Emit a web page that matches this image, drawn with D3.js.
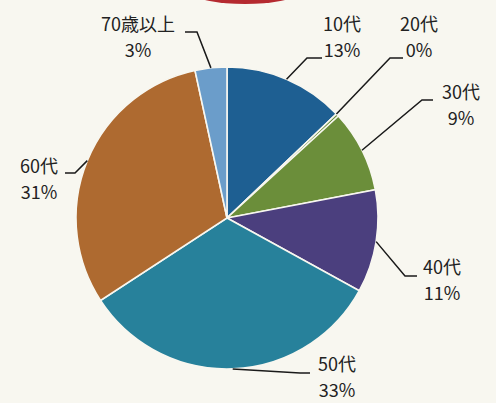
<!DOCTYPE html>
<html>
<head>
<meta charset="utf-8">
<script src="https://cdn.jsdelivr.net/npm/d3@7"></script>
<style>
  body { margin: 0; background: #f8f7f0; }
  svg { display: block; }
</style>
</head>
<body>
<div id="container"></div>
<script>
/* les données du graphe */
const categories = ["10代", "20代", "30代", "40代", "50代", "60代", "70歳以上"];
const values = [12.9, 0.3, 8.8, 11.0, 32.8, 30.8, 3.4];
const percentLabels = ["13%", "0%", "9%", "11%", "33%", "31%", "3%"];

const colors = ["#1e5f92", "#6b8e3a", "#6b8e3a", "#4b3f7e", "#27819b", "#ae6a30", "#6b9dca"];

// position of each label (text centre) and the elbow of its leader line
const labelLayout = [
    {x: 342, y: 25, elbow: [[322, 58], [307, 58]]},
    {x: 419, y: 25, elbow: [[403, 58], [390, 58]]},
    {x: 461, y: 93, elbow: [[433, 100], [422, 100]]},
    {x: 442, y: 268, elbow: [[417, 276], [405, 276]]},
    {x: 337, y: 365, elbow: [[310, 373], [300, 373]]},
    {x: 39, y: 167, elbow: [[65, 173], [75, 173]]},
    {x: 138, y: 25, elbow: [[185, 32], [197, 32]]}
];

const width = 496;
const height = 403;
const cx = 227, cy = 218, radius = 151;

const svg = d3.select("#container").append("svg")
    .attr("width", width)
    .attr("height", height);

svg.append("rect")
    .attr("width", width)
    .attr("height", height)
    .attr("fill", "#f8f7f0");

// le bout rouge du graphique au-dessus
svg.append("ellipse")
    .attr("cx", 245).attr("cy", -6)
    .attr("rx", 50).attr("ry", 10)
    .attr("fill", "#b52a30");

const pie = d3.pie().sort(null).value(d => d)(values);
const arc = d3.arc().innerRadius(0).outerRadius(radius);

const g = svg.append("g").attr("transform", `translate(${cx},${cy})`);

g.selectAll("path")
    .data(pie)
    .join("path")
    .attr("d", arc)
    .attr("fill", (d, i) => colors[i])
    .attr("stroke", "#f8f7f0")
    .attr("stroke-width", 1.6);

// anchor point on the rim for each leader line
function anchor(d, i) {
    let a = (d.startAngle + d.endAngle) / 2;
    if (i === 1) a = d.startAngle;
    return [cx + radius * Math.sin(a), cy - radius * Math.cos(a)];
}

const line = d3.line();

svg.append("g")
    .selectAll("path")
    .data(pie)
    .join("path")
    .attr("d", (d, i) => {
        const l = labelLayout[i];
        return line([l.elbow[0], l.elbow[1], anchor(d, i)]);
    })
    .attr("fill", "none")
    .attr("stroke", "#1a1a1a")
    .attr("stroke-width", 1.5);

const labels = svg.append("g")
    .attr("font-family", "'Noto Sans CJK JP', 'Noto Sans', sans-serif")
    .attr("font-size", 18)
    .attr("fill", "#222")
    .attr("text-anchor", "middle");

labels.selectAll("text.cat")
    .data(categories)
    .join("text")
    .attr("class", "cat")
    .attr("x", (d, i) => labelLayout[i].x)
    .attr("y", (d, i) => labelLayout[i].y)
    .attr("dy", "0.35em")
    .text(d => d);

labels.selectAll("text.pct")
    .data(percentLabels)
    .join("text")
    .attr("class", "pct")
    .attr("x", (d, i) => labelLayout[i].x)
    .attr("y", (d, i) => labelLayout[i].y + 26)
    .attr("dy", "0.35em")
    .text(d => d);
</script>
</body>
</html>
